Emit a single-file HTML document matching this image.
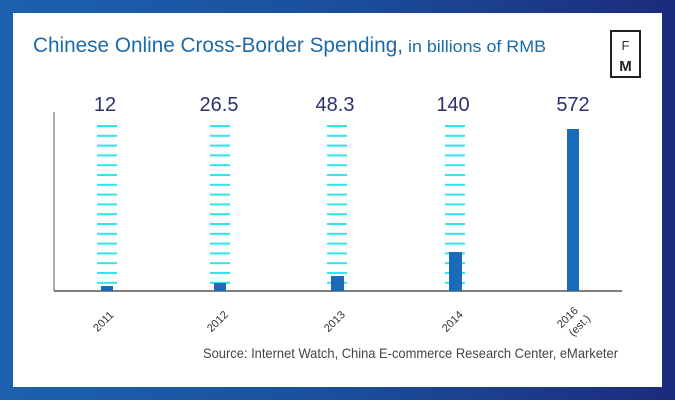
<!DOCTYPE html>
<html><head><style>
body{margin:0;width:675px;height:400px;overflow:hidden;background:linear-gradient(90deg,#1c62ae 0%,#1a4f9c 50%,#1c2b7c 100%);}
svg{position:absolute;left:0;top:0}
text{font-family:"Liberation Sans",sans-serif}
</style></head><body>
<svg width="675" height="400">
<rect x="13" y="13" width="649" height="374" fill="#fff"/>
<text x="33" y="52" font-size="21" fill="#1d6aa8" textLength="370" lengthAdjust="spacingAndGlyphs">Chinese Online Cross-Border Spending,</text>
<text x="408" y="52" font-size="17" fill="#1d6aa8" textLength="138" lengthAdjust="spacingAndGlyphs">in billions of RMB</text>
<rect x="611" y="31" width="29" height="46" fill="none" stroke="#222" stroke-width="2"/>
<text x="625.5" y="50" font-size="13" fill="#333" text-anchor="middle">F</text>
<text x="625.5" y="71" font-size="15" font-weight="bold" font-family="Liberation Serif" fill="#222" text-anchor="middle">M</text>
<g font-size="20" fill="#2d2f6e" text-anchor="middle">
<text x="105" y="111">12</text><text x="219" y="111">26.5</text><text x="335" y="111">48.3</text><text x="453" y="111">140</text><text x="573" y="111">572</text>
</g>
<g id="d" fill="#2de6ee">
</g>
<line x1="54" y1="112" x2="54" y2="291" stroke="#555" stroke-width="1"/>
<line x1="54" y1="291" x2="622" y2="291" stroke="#555" stroke-width="1.5"/>
<g fill="#1a6cb8">
<rect x="101" y="286" width="12" height="5"/>
<rect x="214" y="283" width="12" height="8"/>
<rect x="331" y="276" width="13" height="15"/>
<rect x="449" y="252" width="13" height="39"/>
<rect x="567" y="129" width="12" height="162"/>
</g>
<g font-size="11" fill="#333" text-anchor="middle">
<text transform="translate(106,324) rotate(-45)">2011</text>
<text transform="translate(220,324) rotate(-45)">2012</text>
<text transform="translate(337,324) rotate(-45)">2013</text>
<text transform="translate(455,324) rotate(-45)">2014</text>
<text transform="translate(570,320) rotate(-45)">2016</text>
<text transform="translate(582,328) rotate(-45)">(est.)</text>
</g>
<text x="618" y="358" font-size="14" fill="#444" text-anchor="end" textLength="415" lengthAdjust="spacingAndGlyphs">Source: Internet Watch, China E-commerce Research Center, eMarketer</text>
</svg>
<script>
var g=document.getElementById('d'),cs=[107,220,337,455],s='';
cs.forEach(function(c){for(var i=0;i<17;i++){var y=125+i*9.8;s+='<rect x="'+(c-10)+'" y="'+y.toFixed(1)+'" width="20" height="2"/>';}});
g.innerHTML=s;
</script>
</body></html>
